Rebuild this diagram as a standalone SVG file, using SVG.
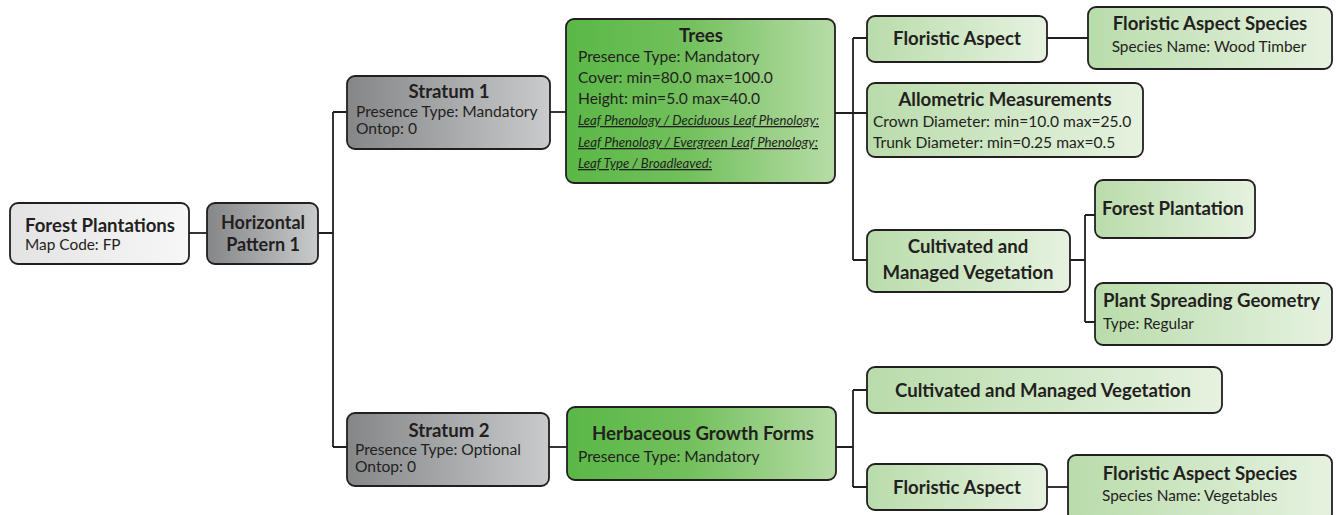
<svg xmlns="http://www.w3.org/2000/svg" width="1337" height="515" viewBox="0 0 1337 515">
  <defs>
    <linearGradient id="gPale" x1="0" y1="0" x2="1" y2="0">
      <stop offset="0" stop-color="#e3e3e4"/>
      <stop offset="1" stop-color="#f7f7f7"/>
    </linearGradient>
    <linearGradient id="gGrey" x1="0" y1="0" x2="1" y2="0">
      <stop offset="0" stop-color="#858688"/>
      <stop offset="1" stop-color="#c9cacc"/>
    </linearGradient>
    <linearGradient id="gGreen" x1="0" y1="0" x2="1" y2="0">
      <stop offset="0" stop-color="#5ab846"/>
      <stop offset="0.45" stop-color="#72c05c"/>
      <stop offset="1" stop-color="#b7dca7"/>
    </linearGradient>
    <linearGradient id="gMint" x1="0" y1="0" x2="1" y2="0">
      <stop offset="0" stop-color="#b9dcab"/>
      <stop offset="1" stop-color="#e6f2e0"/>
    </linearGradient>
  </defs>
  <style>
    .box { stroke: #231f20; stroke-width: 1.8; }
    .pale { fill: url(#gPale); }
    .grey { fill: url(#gGrey); }
    .green { fill: url(#gGreen); }
    .mint { fill: url(#gMint); }
    text { font-family: Lato, "Liberation Sans", sans-serif; fill: #231f20; }
    .t { font-weight: bold; font-size: 18.6px; }
    .tc { font-weight: bold; font-size: 18.6px; text-anchor: middle; }
    .d { font-size: 15.6px; }
    .s { font-size: 15.4px; }
    .i { font-size: 13px; font-style: italic; text-decoration: underline; }
    .wire { fill: none; stroke: #231f20; stroke-width: 1.8; }
  </style>

  <!-- connectors -->
  <g id="connectors">
    <path class="wire" d="M189 233 H207"/>
    <path class="wire" d="M318 233 H333 M333 112 V447 M333 112 H347 M333 447 H347"/>
    <path class="wire" d="M550 112 H566"/>
    <path class="wire" d="M549 447 H567"/>
    <path class="wire" d="M835 113 H867 M853 38 V260 M853 38 H867 M853 260 H867"/>
    <path class="wire" d="M1047 38 H1088"/>
    <path class="wire" d="M1070 260 H1085 M1085 215 V322 M1085 215 H1095 M1085 322 H1095"/>
    <path class="wire" d="M836 447 H853 M853 390 V487 M853 390 H867 M853 487 H867"/>
    <path class="wire" d="M1047 487 H1068"/>
  </g>

  <g id="forest-plantations">
    <rect class="box pale" x="10" y="203" width="179" height="61" rx="8"/>
    <text class="t" x="25" y="232">Forest Plantations</text>
    <text class="s" x="25" y="250">Map Code: FP</text>
  </g>

  <g id="horizontal-pattern-1">
    <rect class="box grey" x="207" y="203" width="111" height="61" rx="8"/>
    <text class="tc" x="263" y="229" style="font-size:18px">Horizontal<tspan x="263" dy="22">Pattern 1</tspan></text>
  </g>

  <g id="stratum-1">
    <rect class="box grey" x="347" y="76" width="203" height="73" rx="8"/>
    <text class="tc" x="449" y="98">Stratum 1</text>
    <text class="d" x="356" y="117">Presence Type: Mandatory</text>
    <text class="d" x="356" y="134">Ontop: 0</text>
  </g>

  <g id="stratum-2">
    <rect class="box grey" x="347" y="413" width="202" height="73" rx="8"/>
    <text class="tc" x="449" y="437">Stratum 2</text>
    <text class="d" x="355" y="455">Presence Type: Optional</text>
    <text class="d" x="355" y="472">Ontop: 0</text>
  </g>

  <g id="trees">
    <rect class="box green" x="566" y="19" width="269" height="164" rx="8"/>
    <text class="tc" x="701" y="42">Trees</text>
    <text class="d" x="578" y="62">Presence Type: Mandatory</text>
    <text class="d" x="578" y="83">Cover: min=80.0 max=100.0</text>
    <text class="d" x="578" y="104">Height: min=5.0 max=40.0</text>
    <text class="i" x="578" y="125" textLength="241" lengthAdjust="spacingAndGlyphs">Leaf Phenology / Deciduous Leaf Phenology:</text>
    <text class="i" x="578" y="147" textLength="240" lengthAdjust="spacingAndGlyphs">Leaf Phenology / Evergreen Leaf Phenology:</text>
    <text class="i" x="578" y="168" textLength="134" lengthAdjust="spacingAndGlyphs">Leaf Type / Broadleaved:</text>
  </g>

  <g id="herbaceous-growth-forms">
    <rect class="box green" x="567" y="407" width="269" height="73" rx="8"/>
    <text class="tc" x="703" y="440">Herbaceous Growth Forms</text>
    <text class="d" x="578" y="462">Presence Type: Mandatory</text>
  </g>

  <g id="floristic-aspect-1">
    <rect class="box mint" x="867" y="16" width="180" height="46" rx="8"/>
    <text class="tc" x="957" y="45">Floristic Aspect</text>
  </g>

  <g id="floristic-aspect-species-1">
    <rect class="box mint" x="1088" y="7" width="244" height="62" rx="8"/>
    <text class="tc" x="1210" y="30">Floristic Aspect Species</text>
    <text class="s" x="1209" y="52" text-anchor="middle">Species Name: Wood Timber</text>
  </g>

  <g id="allometric-measurements">
    <rect class="box mint" x="867" y="83" width="276" height="74" rx="8"/>
    <text class="tc" x="1005" y="106">Allometric Measurements</text>
    <text class="d" x="873" y="127">Crown Diameter: min=10.0 max=25.0</text>
    <text class="d" x="873" y="148">Trunk Diameter: min=0.25 max=0.5</text>
  </g>

  <g id="cultivated-managed-1">
    <rect class="box mint" x="867" y="230" width="203" height="62" rx="8"/>
    <text class="tc" x="968" y="253">Cultivated and<tspan x="968" dy="26">Managed Vegetation</tspan></text>
  </g>

  <g id="forest-plantation">
    <rect class="box mint" x="1095" y="180" width="160" height="58" rx="8"/>
    <text class="t" x="1102" y="215">Forest Plantation</text>
  </g>

  <g id="plant-spreading-geometry">
    <rect class="box mint" x="1095" y="283" width="237" height="62" rx="8"/>
    <text class="t" x="1103" y="307">Plant Spreading Geometry</text>
    <text class="s" x="1103" y="329">Type: Regular</text>
  </g>

  <g id="cultivated-managed-2">
    <rect class="box mint" x="867" y="367" width="355" height="46" rx="8"/>
    <text class="tc" x="1043" y="397">Cultivated and Managed Vegetation</text>
  </g>

  <g id="floristic-aspect-2">
    <rect class="box mint" x="867" y="464" width="180" height="46" rx="8"/>
    <text class="tc" x="957" y="494">Floristic Aspect</text>
  </g>

  <g id="floristic-aspect-species-2">
    <rect class="box mint" x="1068" y="455" width="264" height="66" rx="8"/>
    <text class="tc" x="1200" y="480">Floristic Aspect Species</text>
    <text class="s" x="1102" y="501">Species Name: Vegetables</text>
  </g>
</svg>
